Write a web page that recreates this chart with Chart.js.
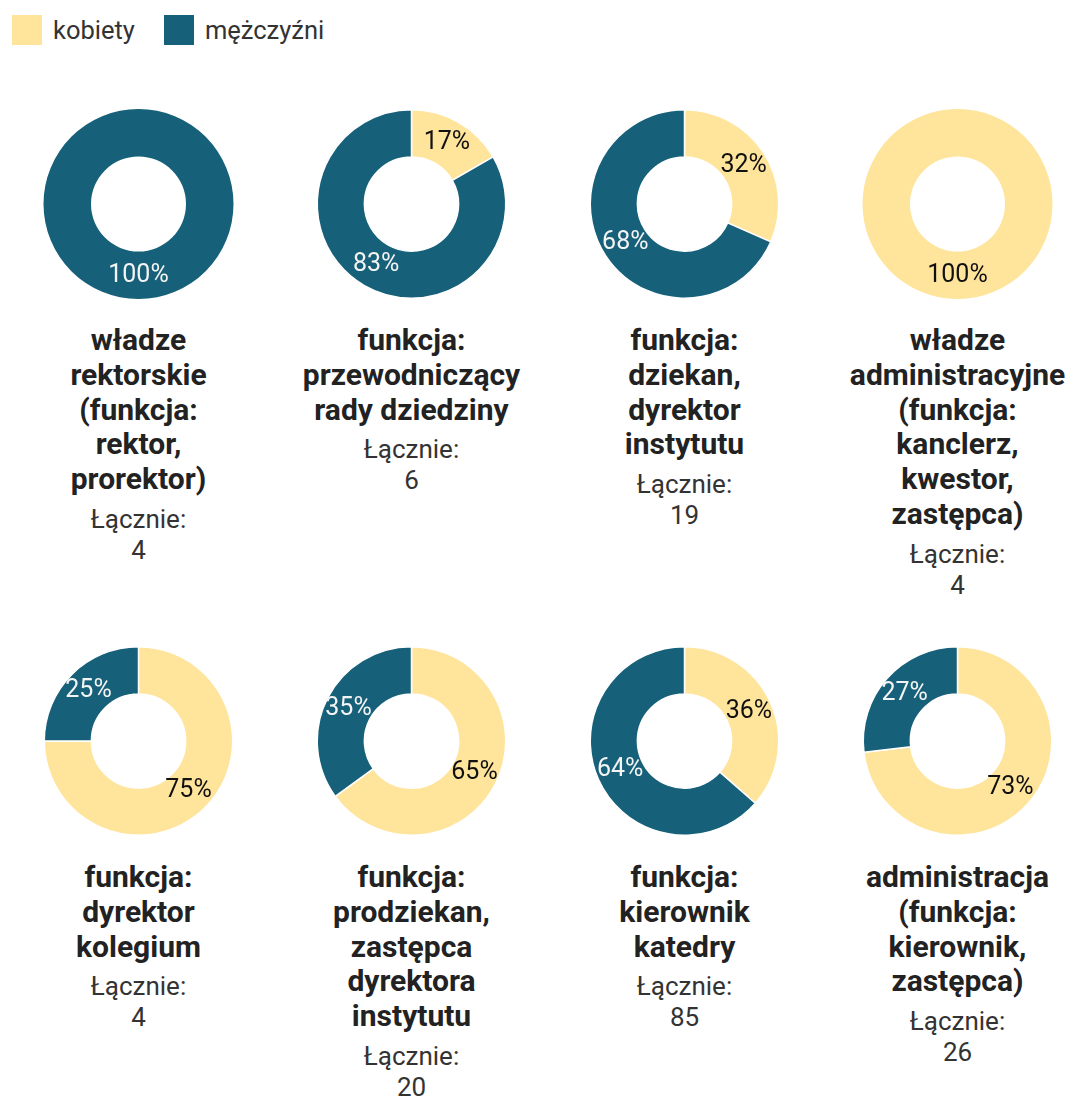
<!DOCTYPE html>
<html lang="pl">
<head>
<meta charset="utf-8">
<script src="https://cdn.jsdelivr.net/npm/chart.js@4/dist/chart.umd.min.js"></script>
<style>
  body { margin: 0; width: 1075px; height: 1097px; overflow: hidden; background: #fff; font-family: Roboto, sans-serif; position: relative; }
  .legend { position: absolute; left: 12px; top: 15px; display: flex; align-items: center; font-size: 25.5px; color: #333; }
  .legend span.box { display: inline-block; width: 30px; height: 30px; margin-right: 11px; }
  .legend .item { display: flex; align-items: center; margin-right: 29px; }
  .row { position: absolute; left: 2px; display: grid; grid-template-columns: repeat(4, 273px); }
  .cell { display: flex; flex-direction: column; align-items: center; }
  .cell .wrap { width: 273px; height: 190px; position: relative; }
  .title { margin-top: 24px; font-weight: bold; font-size: 30px; line-height: 34.8px; color: #222; text-align: center; white-space: nowrap; }
  .sub { margin-top: 7px; font-size: 26px; line-height: 31px; color: #333; text-align: center; }
</style>
</head>
<body>
<div class="legend" id="legend"></div>
<div class="row" id="row0" style="top:109px"></div>
<div class="row" id="row1" style="top:646px"></div>
<script>
const seriesNames = ['kobiety', 'mężczyźni'];
const seriesColors = ['#ffe49c', '#166079'];
const labelColors = ['#111111', '#f4f4f4'];

const categories = [
  ['władze', 'rektorskie', '(funkcja:', 'rektor,', 'prorektor)'],
  ['funkcja:', 'przewodniczący', 'rady dziedziny'],
  ['funkcja:', 'dziekan,', 'dyrektor', 'instytutu'],
  ['władze', 'administracyjne', '(funkcja:', 'kanclerz,', 'kwestor,', 'zastępca)'],
  ['funkcja:', 'dyrektor', 'kolegium'],
  ['funkcja:', 'prodziekan,', 'zastępca', 'dyrektora', 'instytutu'],
  ['funkcja:', 'kierownik', 'katedry'],
  ['administracja', '(funkcja:', 'kierownik,', 'zastępca)']
];
const kobiety   = [0, 1, 6, 4, 3, 13, 31, 19];
const mezczyzni = [4, 5, 13, 0, 1, 7, 54, 7];

// legend
const legend = document.getElementById('legend');
seriesNames.forEach((name, i) => {
  const item = document.createElement('div');
  item.className = 'item';
  item.innerHTML = `<span class="box" style="background:${seriesColors[i]}"></span>${name}`;
  legend.appendChild(item);
});

// percentage labels in the middle of each arc
const pctLabels = {
  id: 'pctLabels',
  afterDatasetsDraw(chart) {
    const ctx = chart.ctx;
    const data = chart.data.datasets[0].data;
    const total = data.reduce((a, b) => a + b, 0);
    chart.getDatasetMeta(0).data.forEach((arc, i) => {
      if (!data[i]) return;
      const p = arc.getCenterPoint();
      ctx.save();
      ctx.font = '25px Roboto';
      ctx.fillStyle = labelColors[i];
      ctx.textAlign = 'center';
      ctx.textBaseline = 'middle';
      ctx.fillText(Math.round(data[i] / total * 100) + '%', p.x, p.y);
      ctx.restore();
    });
  }
};

categories.forEach((lines, idx) => {
  const row = document.getElementById(idx < 4 ? 'row0' : 'row1');
  const cell = document.createElement('div');
  cell.className = 'cell';
  const total = kobiety[idx] + mezczyzni[idx];
  cell.innerHTML = `
    <div class="wrap"><canvas></canvas></div>
    <div class="title">${lines.join('<br>')}</div>
    <div class="sub">Łącznie:<br>${total}</div>
  `;
  row.appendChild(cell);

  // no seam on a full ring
  const split = kobiety[idx] > 0 && mezczyzni[idx] > 0;

  new Chart(cell.querySelector('canvas'), {
    type: 'doughnut',
    data: {
      labels: seriesNames,
      datasets: [{
        data: [kobiety[idx], mezczyzni[idx]],
        backgroundColor: seriesColors,
        borderColor: '#fff',
        borderWidth: split ? 1.5 : 0
      }]
    },
    options: {
      responsive: true,
      maintainAspectRatio: false,
      animation: false,
      cutout: '50%',
      plugins: {
        legend: { display: false },
        tooltip: { enabled: false }
      }
    },
    plugins: [pctLabels]
  });
});
</script>
</body>
</html>
